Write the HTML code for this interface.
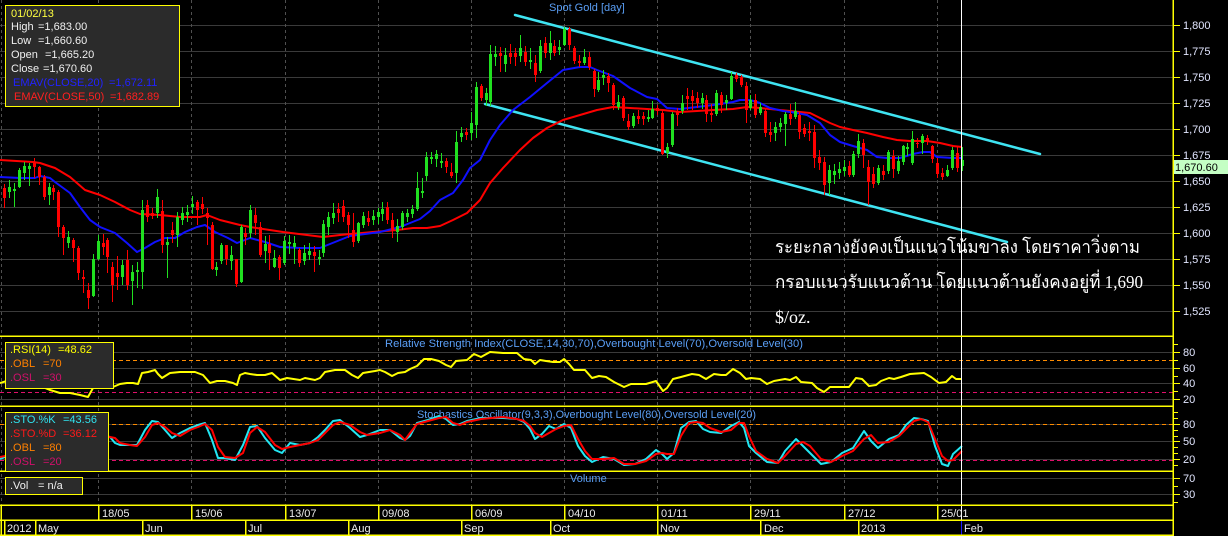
<!DOCTYPE html>
<html>
<head>
<meta charset="utf-8">
<style>
html,body{margin:0;padding:0;background:#000;}
svg{display:block;}
text{font-family:"Liberation Sans",Arial,sans-serif;font-size:11px;white-space:pre;}
</style>
</head>
<body>
<svg width="1228" height="536" viewBox="0 0 1228 536" xmlns="http://www.w3.org/2000/svg">
<rect x="0" y="0" width="1228" height="536" fill="#000"/>

<!-- horizontal gray grid lines -->
<g stroke="#3a3a3a" stroke-width="1" shape-rendering="crispEdges">
<path d="M0 25.5H1173M0 51.5H1173M0 77.5H1173M0 103.5H1173M0 129.5H1173M0 155.5H1173M0 181.5H1173M0 207.5H1173M0 233.5H1173M0 259.5H1173M0 285.5H1173M0 311.5H1173"/>
<path d="M0 352.5H1173M0 368.5H1173M0 383.5H1173M0 399.5H1173"/>
<path d="M0 424.5H1173M0 441.5H1173M0 459.5H1173"/>
<path d="M0 478.5H1173M0 494.5H1173"/>
</g>

<!-- vertical dashed grid -->
<g stroke="#505050" stroke-width="1" stroke-dasharray="3,3" shape-rendering="crispEdges">
<path d="M1.5 0V505M98.5 0V505M191.5 0V505M285.5 0V505M378.5 0V505M471.5 0V505M564.5 0V505M657.5 0V505M750.5 0V505M844.5 0V505M937.5 0V505"/>
</g>

<!-- panel titles -->
<text x="549" y="11" fill="#5a9ef5">Spot Gold [day]</text>
<text x="385" y="347" fill="#5a9ef5" textLength="418" lengthAdjust="spacingAndGlyphs">Relative Strength Index(CLOSE,14,30,70),Overbought Level(70),Oversold Level(30)</text>
<text x="417" y="418" fill="#5a9ef5" textLength="339" lengthAdjust="spacingAndGlyphs">Stochastics Oscillator(9,3,3),Overbought Level(80),Oversold Level(20)</text>
<text x="570" y="482" fill="#5a9ef5">Volume</text>

<!-- channel lines -->
<g stroke="#3fe4f2" stroke-width="2.5" stroke-linecap="round">
<line x1="515" y1="15" x2="1040" y2="154"/>
<line x1="485" y1="104" x2="1007" y2="242"/>
</g>

<!-- EMA lines -->
<polyline fill="none" stroke="#ff0000" stroke-width="2" stroke-linejoin="round" points="0,160 33,162 40,163 55,168 70,177 85,190 100,195 115,202 130,210 140,214 160,215 180,217 200,217 207,215 220,220 240,225 250,227 283,232 323,237 340,235 373,232 397,230 413,228 427,228 440,226 453,220 467,213 480,200 490,183 503,168 520,150 533,138 547,128 563,120 580,115 597,110 613,107 630,108 647,109 663,110 680,112 697,111 713,110 733,109 747,107 760,108 780,110 800,112 810,113 820,118 830,123 840,127 853,130 867,133 883,137 897,140 910,141 927,141 940,143 953,146 962,147"/>
<polyline fill="none" stroke="#1010ff" stroke-width="2" stroke-linejoin="round" points="0,177 20,178 35,178 40,176 50,178 55,182 70,193 80,207 90,220 100,227 115,233 127,243 137,252 145,248 155,242 165,238 175,238 185,232 197,227 205,225 215,232 228,238 237,243 250,238 265,242 280,247 300,248 320,248 335,242 350,236 380,232 400,227 420,219 430,211 440,200 453,193 463,180 470,168 480,160 490,140 500,125 513,110 530,97 547,83 563,70 580,67 590,67 597,70 613,76 630,88 647,97 657,99 667,108 680,109 697,107 713,105 733,102 740,100 750,100 760,103 770,108 783,111 797,113 807,115 820,123 830,135 840,142 853,146 867,150 877,157 887,158 900,158 913,154 923,152 930,152 937,157 953,158 962,158"/>

<!-- candles -->
<g transform="translate(0.5,0)" fill="none">
<!-- green wicks -->
<path stroke="#20e020" stroke-width="1" d="M9 180V198M14 183V207M19 168V188M24 162V180M29 163V186M49 183V205M68 231V248M93 254V297M98 235V260M122 260V285M132 265V305M137 262V288M142 200V289M157 189V218M167 237V278M177 212V247M182 207V225M187 205V222M192 196V214M216 262V276M221 243V264M231 246V270M241 225V283M250 205V238M265 236V263M274 250V268M284 236V265M289 235V254M294 236V264M304 245V265M309 243V260M319 250V265M323 220V257M328 212V235M333 203V224M358 222V243M363 212V228M373 210V225M378 208V224M382 202V221M397 219V242M402 211V230M407 209V222M412 205V218M417 172V211M422 178V198M426 152V181M431 152V164M436 150V167M441 153V168M456 131V183M461 127V142M471 112V140M476 82V138M486 88V106M490 45V106M495 46V66M505 48V72M520 35V62M530 48V69M540 40V73M550 31V60M559 40V55M564 27V46M584 49V65M598 72V92M603 70V85M618 95V110M633 113V128M648 110V122M652 101V119M667 143V158M672 112V147M682 95V114M702 93V109M716 90V116M726 95V110M731 72V100M750 95V110M760 103V115M775 122V141M780 118V132M785 112V146M795 102V119M829 165V195M834 164V184M839 162V179M844 160V176M853 151V177M858 134V158M878 165V185M888 150V174M898 156V174M903 145V165M907 143V156M912 131V165M922 134V154M947 165V177M952 147V170M962 147V171"/>
<!-- green bodies -->
<path stroke="#20e020" stroke-width="3" d="M9 187V192M14 189V191M19 170V187M24 166V173M29 166V169M49 187V195M68 237V243M93 259V296M98 241V259M122 265V277M132 272V281M137 270V272M142 210V272M157 197V213M167 242V245M177 217V235M182 213V220M187 212V215M192 204V207M216 267V270M221 245V261M231 255V261M241 227V282M250 210V233M265 244V251M274 258V267M284 241V263M289 242V244M294 243V247M304 253V261M309 251V255M319 257V259M323 224V253M328 217V227M333 213V218M358 223V241M363 216V225M373 216V220M378 212V217M382 209V214M397 226V232M402 213V227M407 213V217M412 209V214M417 188V209M422 191V193M426 157V176M431 157V159M436 154V159M441 161V163M456 142V173M461 133V137M471 123V133M476 87V125M486 93V100M490 54V102M495 54V57M505 55V64M520 48V56M530 60V62M540 46V71M550 43V53M559 47V50M564 29V45M584 57V63M598 80V90M603 75V78M618 102V107M633 116V126M648 117V119M652 109V118M667 147V153M672 114V145M682 103V111M702 98V103M716 93V114M726 100V103M731 76V99M750 100V108M760 107V113M775 127V133M780 123V127M785 114V124M795 111V117M829 170V183M834 171V175M839 169V173M844 167V171M853 154V175M858 141V154M878 168V183M888 152V171M898 161V171M903 146V162M907 147V149M912 139V163M922 136V143M947 170V176M952 150V168M962 160V166"/>
<!-- red wicks -->
<path stroke="#ff0000" stroke-width="1" d="M4 184V208M34 158V178M39 166V185M44 175V200M53 185V200M58 190V237M63 225V255M73 238V262M78 246V280M83 270V293M88 283V309M103 234V255M107 238V273M112 262V302M117 256V290M127 250V290M147 200V222M152 208V219M162 200V253M172 222V243M197 200V225M202 197V214M207 208V245M212 222V270M226 245V265M236 259V287M245 228V245M255 208V235M260 222V257M269 235V270M279 255V280M299 248V267M314 246V272M338 203V222M343 200V222M348 212V238M353 213V247M368 211V226M387 202V224M392 213V238M446 158V173M451 163V178M466 128V140M481 84V101M500 47V72M510 44V64M515 48V66M525 46V66M535 55V82M545 37V58M554 40V56M569 27V50M574 46V64M579 55V67M589 52V70M594 69V97M608 73V92M613 83V110M623 96V121M628 114V130M638 110V124M643 112V125M657 105V115M662 111V155M677 108V126M687 88V110M692 90V110M697 92V108M706 95V122M711 104V122M721 92V113M736 73V82M741 75V87M746 82V123M755 94V118M765 109V137M770 122V142M790 104V125M799 112V139M804 124V137M809 122V141M814 125V168M819 150V170M824 157V195M849 161V177M863 139V168M868 160V205M873 167V188M883 165V180M893 150V178M917 138V148M927 135V145M932 145V163M937 158V178M942 168V180M957 146V172"/>
<!-- red bodies -->
<path stroke="#ff0000" stroke-width="3" d="M4 188V198M34 163V167M39 167V177M44 177V197M53 188V192M58 192V227M63 227V238M73 240V248M78 248V273M83 277V279M88 290V298M103 243V247M107 240V257M112 267V285M117 273V277M127 260V285M147 205V217M152 213V216M162 211V245M172 230V235M197 202V210M202 204V209M207 213V218M212 225V269M226 245V259M236 259V284M245 233V237M255 215V223M260 227V255M269 244V253M279 257V268M299 250V263M314 252V256M338 209V213M343 206V217M348 215V225M353 230V242M368 218V222M387 207V220M392 220V230M446 161V167M451 172V176M466 132V135M481 86V98M500 53V56M510 53V57M515 53V57M525 52V62M535 63V75M545 43V53M554 46V53M569 29V45M574 48V61M579 61V63M589 57V67M594 71V89M608 76V83M613 85V105M623 98V118M628 121V127M638 116V119M643 116V119M657 108V111M662 113V154M677 112V115M687 96V99M692 96V101M697 98V103M706 100V114M711 113V115M721 95V105M736 75V79M741 77V85M746 86V110M755 100V115M765 111V133M770 132V135M790 114V119M799 115V132M804 128V134M809 131V133M814 132V158M819 157V163M824 162V185M849 166V175M863 143V155M868 167V182M873 174V184M883 171V175M893 156V169M917 143V144M927 138V142M932 146V159M937 163V174M942 173V177M957 153V168"/>
</g>

<!-- Thai annotation -->
<g font-family="'Liberation Serif','DejaVu Serif',serif" fill="#ffffff">
<text x="775" y="253" style="font-family:'Liberation Serif','DejaVu Serif',serif;font-size:18px" textLength="365" lengthAdjust="spacingAndGlyphs">ระยะกลางยังคงเป็นแนวโน้มขาลง โดยราคาวิ่งตาม</text>
<text x="775" y="288" style="font-family:'Liberation Serif','DejaVu Serif',serif;font-size:18px" textLength="368" lengthAdjust="spacingAndGlyphs">กรอบแนวรับแนวต้าน โดยแนวต้านยังคงอยู่ที่ 1,690</text>
<text x="775" y="323" style="font-family:'Liberation Serif','DejaVu Serif',serif;font-size:18px">$/oz.</text>
</g>

<!-- OBL / OSL dashed lines -->
<g stroke-width="1" stroke-dasharray="4,3" shape-rendering="crispEdges">
<path stroke="#ff8c00" d="M0 360.5H1173M0 424.5H1173"/>
<path stroke="#e0106a" d="M0 392.5H1173M0 460.5H1173"/>
</g>

<!-- RSI line -->
<polyline fill="none" stroke="#ffff00" stroke-width="2" stroke-linejoin="round" points="0,383 10,380 20,378 30,382 40,386 50,390 60,393 70,393 80,395 88,397 93,388 100,387 113,387 120,384 127,383 133,383 138,384 142,373 148,372 155,370 158,374 162,378 170,373 180,372 195,372 203,375 210,383 217,381 225,381 233,383 237,385 240,375 245,373 250,374 257,375 265,375 272,373 280,380 287,378 300,380 305,378 315,380 320,378 325,372 335,370 345,370 352,375 358,378 363,373 375,371 380,370 385,372 392,376 398,373 405,372 410,369 417,366 424,359 431,359 439,361 446,365 451,367 456,361 467,360 474,354 481,357 490,352 503,353 517,353 524,359 531,360 535,364 540,360 546,361 553,362 560,362 564,359 569,364 574,370 585,370 592,378 599,376 606,377 614,382 624,387 631,384 646,384 656,381 663,391 667,388 673,379 681,377 692,374 699,375 706,379 714,374 721,375 726,375 733,369 740,373 746,379 751,378 760,379 767,384 774,381 785,379 790,380 796,377 801,382 812,383 817,388 824,392 830,387 849,387 856,378 862,379 869,386 876,385 881,381 889,378 894,379 901,377 910,374 924,373 931,377 939,383 946,382 952,376 956,379 962,379"/>

<!-- Stochastic lines -->
<polyline fill="none" stroke="#22e6f2" stroke-width="2" stroke-linejoin="round" points="0,459 10,455 20,445 30,440 40,442 50,446 60,450 70,448 80,440 90,436 100,435 110,437 115,443 120,445 130,445 137,445 145,430 152,421 158,422 165,430 172,438 180,433 190,428 198,425 205,423 212,440 218,458 225,458 235,460 243,445 250,427 257,426 265,438 275,450 282,453 290,443 300,445 310,443 318,437 325,430 333,421 340,420 350,428 360,437 367,435 380,430 390,430 400,438 405,440 410,436 417,423 428,420 439,416 446,419 453,425 460,424 467,421 481,418 503,418 517,419 524,422 530,429 535,439 542,434 549,426 556,429 564,424 571,428 578,446 585,456 592,462 603,457 614,459 624,465 635,464 646,459 656,450 662,454 667,459 674,453 681,428 689,422 696,421 703,429 710,432 721,433 731,426 739,422 744,428 749,446 756,453 767,462 778,463 785,451 796,439 803,446 810,453 821,464 831,462 842,453 853,448 864,431 871,441 878,448 889,439 899,435 906,425 914,418 921,419 928,421 935,446 942,464 948,466 953,454 962,446"/>
<polyline fill="none" stroke="#ff0000" stroke-width="2" stroke-linejoin="round" points="0,457 10,455 20,448 30,442 40,441 50,444 60,448 70,449 80,444 90,439 100,437 110,437 115,438 120,443 130,445 137,446 145,437 152,425 158,423 165,427 172,433 180,436 190,430 198,427 205,424 212,430 218,447 225,457 235,458 243,453 250,433 257,427 265,432 275,445 282,449 290,447 300,445 310,443 318,440 325,433 333,425 340,422 350,425 360,432 367,435 380,433 390,430 400,435 405,440 410,433 417,424 428,421 439,418 446,417 453,423 460,425 467,422 481,419 503,417 517,419 524,421 530,426 535,433 542,437 549,433 556,429 564,426 571,425 578,439 585,451 592,459 603,459 614,458 624,464 635,464 646,461 656,454 662,453 667,454 674,454 681,436 689,423 696,422 703,423 710,428 721,432 731,430 739,423 744,423 749,436 756,451 767,459 778,463 785,456 796,444 803,442 810,446 821,459 831,462 842,456 853,451 864,439 871,435 878,443 889,442 899,436 906,429 914,421 921,419 928,422 935,439 942,456 948,461 953,460 962,451"/>

<!-- cursor line -->
<path d="M961.5 0V520" stroke="#ffffff" stroke-width="1" shape-rendering="crispEdges"/>
<path d="M961.5 520V536" stroke="#2020ff" stroke-width="1" shape-rendering="crispEdges"/>

<!-- yellow panel separators and axis frame -->
<g stroke="#ffff00" stroke-width="1.5" shape-rendering="crispEdges" fill="none">
<path d="M0 336H1173M0 406H1173M0 471H1173M0 505H1173M0 520H1173M0 535H1173"/>
<path d="M1173 0V536"/>
<path d="M1 505V535M98.5 505V520M191.5 505V520M285.5 505V520M378.5 505V520M471.5 505V520M564.5 505V520M657.5 505V520M750.5 505V520M844.5 505V520M937.5 505V520"/>
<path d="M4.5 520V535M35.5 520V535M142.5 520V535M245.5 520V535M348.5 520V535M461.5 520V535M550.5 520V535M657.5 520V535M760.5 520V535M858.5 520V535"/>
</g>

<!-- right axis ticks -->
<g stroke="#ffff00" stroke-width="1" shape-rendering="crispEdges">
<path d="M1173 25.5H1180M1173 51.5H1180M1173 77.5H1180M1173 103.5H1180M1173 129.5H1180M1173 155.5H1180M1173 181.5H1180M1173 207.5H1180M1173 233.5H1180M1173 259.5H1180M1173 285.5H1180M1173 311.5H1180"/>
<path d="M1173 344.5H1178M1173 352.5H1180M1173 360.5H1178M1173 368.5H1180M1173 376.5H1178M1173 383.5H1180M1173 391.5H1178M1173 399.5H1180"/>
<path d="M1173 412.5H1178M1173 418.5H1178M1173 424.5H1180M1173 430.5H1178M1173 436.5H1178M1173 441.5H1180M1173 447.5H1178M1173 453.5H1178M1173 459.5H1180M1173 465.5H1178"/>
<path d="M1173 478.5H1180M1173 486.5H1178M1173 494.5H1180M1173 502.5H1178"/>
</g>

<!-- right axis labels -->
<g fill="#e2e6ff">
<text x="1183" y="29">1,800</text>
<text x="1183" y="55">1,775</text>
<text x="1183" y="81">1,750</text>
<text x="1183" y="107">1,725</text>
<text x="1183" y="133">1,700</text>
<text x="1183" y="159">1,675</text>
<text x="1183" y="185">1,650</text>
<text x="1183" y="211">1,625</text>
<text x="1183" y="237">1,600</text>
<text x="1183" y="263">1,575</text>
<text x="1183" y="289">1,550</text>
<text x="1183" y="315">1,525</text>
<text x="1183" y="356">80</text>
<text x="1183" y="372">60</text>
<text x="1183" y="387">40</text>
<text x="1183" y="403">20</text>
<text x="1183" y="428">80</text>
<text x="1183" y="445">50</text>
<text x="1183" y="463">20</text>
<text x="1183" y="482">70</text>
<text x="1183" y="498">30</text>
</g>

<!-- last price label -->
<rect x="1174" y="160" width="54" height="14" fill="#c4ffc4"/>
<text x="1175" y="171" fill="#000">1,670.60</text>

<!-- date labels -->
<g fill="#ececec">
<text x="102" y="517">18/05</text>
<text x="195" y="517">15/06</text>
<text x="289" y="517">13/07</text>
<text x="382" y="517">09/08</text>
<text x="475" y="517">06/09</text>
<text x="568" y="517">04/10</text>
<text x="661" y="517">01/11</text>
<text x="754" y="517">29/11</text>
<text x="848" y="517">27/12</text>
<text x="941" y="517">25/01</text>
<text x="7" y="532">2012</text>
<text x="38" y="532">May</text>
<text x="145" y="532">Jun</text>
<text x="248" y="532">Jul</text>
<text x="351" y="532">Aug</text>
<text x="464" y="532">Sep</text>
<text x="553" y="532">Oct</text>
<text x="660" y="532">Nov</text>
<text x="764" y="532">Dec</text>
<text x="861" y="532">2013</text>
<text x="964" y="532">Feb</text>
</g>

<!-- info box top-left -->
<rect x="5.5" y="5.5" width="174" height="101" fill="#2b2b2b" stroke="#ffff00" stroke-width="1"/>
<text x="11" y="17" fill="#ffff40">01/02/13</text>
<text x="11" y="30" fill="#f0f0f0">High</text><text x="38" y="30" fill="#f0f0f0">=1,683.00</text>
<text x="11" y="44" fill="#f0f0f0">Low</text><text x="38" y="44" fill="#f0f0f0">=1,660.60</text>
<text x="11" y="58" fill="#f0f0f0">Open</text><text x="45" y="58" fill="#f0f0f0">=1,665.20</text>
<text x="11" y="72" fill="#f0f0f0">Close</text><text x="43" y="72" fill="#f0f0f0">=1,670.60</text>
<text x="13" y="86" fill="#2222ff">EMAV(CLOSE,20)</text><text x="109" y="86" fill="#2222ff">=1,672.11</text>
<text x="14" y="100" fill="#ff2020">EMAV(CLOSE,50)</text><text x="110" y="100" fill="#ff2020">=1,682.89</text>

<!-- RSI box -->
<rect x="5.5" y="342.5" width="108" height="46" fill="#2b2b2b" stroke="#ffff00" stroke-width="1"/>
<text x="10" y="353" fill="#ffff00">.RSI(14)</text><text x="58" y="353" fill="#ffff00">=48.62</text>
<text x="10" y="367" fill="#ff8000">.OBL</text><text x="43" y="367" fill="#ff8000">=70</text>
<text x="10" y="381" fill="#d0106a">.OSL</text><text x="43" y="381" fill="#d0106a">=30</text>

<!-- STO box -->
<rect x="5.5" y="412.5" width="103" height="59" fill="#2b2b2b" stroke="#ffff00" stroke-width="1"/>
<text x="10" y="423" fill="#30e4f0">.STO.%K</text><text x="63" y="423" fill="#30e4f0">=43.56</text>
<text x="10" y="437" fill="#ff1a1a">.STO.%D</text><text x="63" y="437" fill="#ff1a1a">=36.12</text>
<text x="10" y="451" fill="#ff8000">.OBL</text><text x="43" y="451" fill="#ff8000">=80</text>
<text x="10" y="465" fill="#d0106a">.OSL</text><text x="43" y="465" fill="#d0106a">=20</text>

<!-- Vol box -->
<rect x="5.5" y="477.5" width="77" height="17" fill="#2b2b2b" stroke="#ffff00" stroke-width="1"/>
<text x="10" y="489" fill="#f0f0f0">.Vol</text><text x="38" y="489" fill="#f0f0f0">= n/a</text>
</svg>
</body>
</html>
